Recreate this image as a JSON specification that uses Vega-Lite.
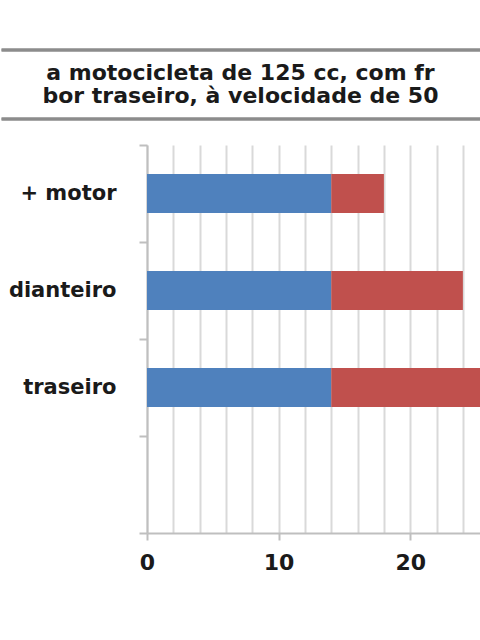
{
  "$schema": "https://vega.github.io/schema/vega-lite/v6.json",
  "padding": {"left": 0, "top": 48, "right": 0, "bottom": 0},
  "spacing": 13,
  "background": "white",
  "config": {"view": {"stroke": null}, "font": "DejaVu Sans"},
  "vconcat": [
    {
      "width": 333,
      "height": 69,
      "data": {"values": [
        {"line": 1, "text": "a motocicleta de 125 cc, com fr"},
        {"line": 2, "text": "bor traseiro, à velocidade de 50"}
      ]},
      "encoding": {
        "x": {"datum": -11.05, "type": "quantitative", "scale": {"domain": [0, 25.3], "nice": false, "zero": false}, "axis": null}
      },
      "layer": [
        {
          "mark": {"type": "rule", "color": "#8c8c8c", "strokeWidth": 3},
          "encoding": {
            "x2": {"datum": 25.3},
            "y": {"datum": 0, "type": "quantitative", "scale": {"domain": [0, 3], "reverse": true}, "axis": null}
          }
        },
        {
          "mark": {"type": "rule", "color": "#8c8c8c", "strokeWidth": 3},
          "encoding": {
            "x2": {"datum": 25.3},
            "y": {"datum": 3, "type": "quantitative"}
          }
        },
        {
          "mark": {"type": "text", "font": "DejaVu Sans", "fontWeight": "bold", "fontSize": 22, "color": "#1a1a1a", "baseline": "middle"},
          "encoding": {
            "x": {"datum": 7.1, "type": "quantitative"},
            "y": {"field": "line", "type": "quantitative"},
            "text": {"field": "text"}
          }
        }
      ]
    },
    {
      "width": 333,
      "height": 388,
      "data": {"values": [
        {"categoria": "+ motor", "serie": "Série 1", "valor": 14},
        {"categoria": "+ motor", "serie": "Série 2", "valor": 4},
        {"categoria": "dianteiro", "serie": "Série 1", "valor": 14},
        {"categoria": "dianteiro", "serie": "Série 2", "valor": 10},
        {"categoria": "traseiro", "serie": "Série 1", "valor": 14},
        {"categoria": "traseiro", "serie": "Série 2", "valor": 12}
      ]},
      "mark": {"type": "bar", "clip": true, "height": {"band": 0.4}},
      "encoding": {
        "y": {
          "field": "categoria", "type": "nominal",
          "scale": {"domain": ["+ motor", "dianteiro", "traseiro", " "], "paddingInner": 0, "paddingOuter": 0},
          "axis": {
            "title": null, "tickBand": "extent", "tickSize": 8, "tickColor": "#bfbfbf", "tickWidth": 2,
            "domainColor": "#bfbfbf", "domainWidth": 2,
            "labelFont": "DejaVu Sans", "labelFontSize": 21, "labelFontWeight": "bold", "labelColor": "#1a1a1a",
            "labelPadding": 23, "minExtent": 147, "maxExtent": 147
          }
        },
        "x": {
          "field": "valor", "type": "quantitative", "stack": "zero",
          "scale": {"domain": [0, 25.3], "nice": false},
          "axis": {
            "title": null,
            "values": [0, 2, 4, 6, 8, 10, 12, 14, 16, 18, 20, 22, 24],
            "grid": true, "gridColor": "#d9d9d9", "gridWidth": 2,
            "labelExpr": "datum.value % 10 === 0 ? datum.label : ''",
            "tickOpacity": {"condition": {"test": "datum.value % 10 === 0", "value": 1}, "value": 0},
            "tickSize": 7, "tickColor": "#bfbfbf", "tickWidth": 2,
            "domainColor": "#bfbfbf", "domainWidth": 2,
            "labelFont": "DejaVu Sans", "labelFontSize": 22, "labelFontWeight": "bold", "labelColor": "#1a1a1a",
            "labelPadding": 12, "labelFlush": false, "labelOverlap": false
          }
        },
        "color": {
          "field": "serie", "type": "nominal",
          "scale": {"domain": ["Série 1", "Série 2"], "range": ["#4f81bd", "#c0504d"]},
          "legend": null
        },
        "order": {"field": "serie"}
      }
    }
  ]
}
